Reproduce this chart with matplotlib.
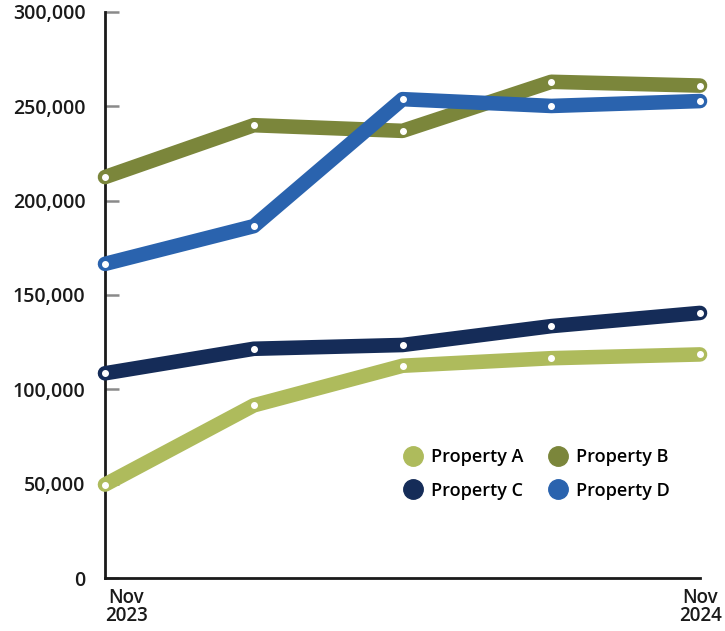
import matplotlib
matplotlib.use("Agg")
import matplotlib.pyplot as plt
from matplotlib.lines import Line2D
from matplotlib.transforms import ScaledTranslation

plt.rcParams['font.family'] = ['Open Sans', 'DejaVu Sans']

x_labels = ["Nov\n2023", "", "", "", "Nov\n2024"]
series_names = ["Property A", "Property B", "Property C", "Property D"]
prop_a = [49500, 91500, 112500, 116500, 118500]
prop_b = [212500, 240000, 237000, 263000, 261000]
prop_c = [108500, 121500, 123500, 133500, 140500]
prop_d = [166500, 186500, 253800, 250200, 252800]
colors = ["#aebb5c", "#7b863b", "#152c58", "#2a63ae"]
y_ticks = [0, 50000, 100000, 150000, 200000, 250000, 300000]

fig = plt.figure(figsize=(7.25, 6.31), dpi=100)
ax = fig.add_axes([105/725, 1-578/631, (700-105)/725, (578-12)/631])

xs = list(range(len(x_labels)))
for vals, col, name, z in zip([prop_a, prop_b, prop_c, prop_d], colors, series_names, [3, 3, 3, 4]):
    ax.plot(xs, vals, color=col, lw=10.5, solid_capstyle='round', solid_joinstyle='round',
            clip_on=False, zorder=z, label=name)
    ax.plot(xs, vals, linestyle='none', marker='o', ms=4, mfc='white', mec='white',
            clip_on=False, zorder=z + 0.5)

ax.set_xlim(0, 4)
ax.set_ylim(0, 300000)
ax.set_yticks(y_ticks)
ax.set_yticklabels([f"{v:,}" for v in y_ticks])
ax.set_xticks([0, 4])
ax.set_xticklabels([x_labels[0], x_labels[4]])
for sp in ['top', 'right']:
    ax.spines[sp].set_visible(False)
for sp in ['left', 'bottom']:
    ax.spines[sp].set_color('#1a1a1a')
    ax.spines[sp].set_linewidth(2)
ax.tick_params(axis='y', direction='in', length=10, width=1.8, color='#8a8a8a',
               labelsize=14, pad=14, labelcolor='#1a1a1a')
ax.tick_params(axis='x', length=0, labelsize=13.5, pad=7, labelcolor='#1a1a1a')
for lab in ax.get_yticklabels():
    lab.set_fontweight('semibold')
xl = ax.get_xticklabels()
xl[0].set_ha('left'); xl[0].set_linespacing(0.9)
xl[1].set_ha('right'); xl[1].set_linespacing(0.9)
for lab in xl:
    lab.set_fontweight('semibold')
    lab.set_multialignment('center')
xl[0].set_transform(xl[0].get_transform() + ScaledTranslation(0.0, 0, fig.dpi_scale_trans))
xl[1].set_transform(xl[1].get_transform() + ScaledTranslation(0.22, 0, fig.dpi_scale_trans))

order = [0, 2, 1, 3]
handles = [Line2D([], [], linestyle='none', marker='o', ms=14, mfc=colors[i], mec=colors[i]) for i in order]
labels = [series_names[i] for i in order]
leg = ax.legend(handles, labels, ncol=2, loc='center', bbox_to_anchor=((537-105)/595, (578-474)/566),
                frameon=False, fontsize=13, handlelength=1.0, handletextpad=0.5, columnspacing=1.4,
                labelspacing=0.85)
for t in leg.get_texts():
    t.set_fontweight('semibold')

fig.savefig("out.png", dpi=100)
